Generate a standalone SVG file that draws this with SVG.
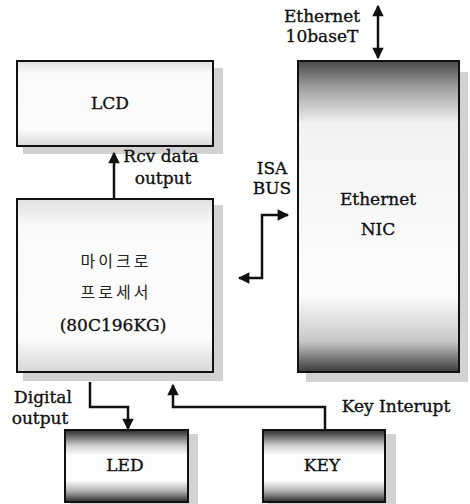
<svg xmlns="http://www.w3.org/2000/svg" width="470" height="504" viewBox="0 0 470 504">
<style>
.t{font-family:"DejaVu Serif","Liberation Serif",serif;font-size:17px;fill:#111;stroke:#111;stroke-width:0.35;text-anchor:middle}
.k{font-family:"Noto Sans CJK KR",sans-serif;font-size:16px;fill:#222;text-anchor:middle;letter-spacing:3px}
.box{stroke:#111;stroke-width:2}
.sh{fill:#d2d2d2}
.c{fill:none;stroke:#111;stroke-width:2.5}
</style>
<defs>
<marker id="ah" viewBox="0 0 10 10" refX="9" refY="5" markerWidth="6" markerHeight="4.6" orient="auto-start-reverse" markerUnits="strokeWidth">
<path d="M0,0 L10,5 L0,10 Z" fill="#111"/>
</marker>
<linearGradient id="gLcd" x1="0" y1="0" x2="0" y2="1">
<stop offset="0" stop-color="#e0e0e0"/><stop offset="0.15" stop-color="#fafafa"/><stop offset="0.8" stop-color="#fcfcfc"/><stop offset="1" stop-color="#d8d8d8"/>
</linearGradient>
<linearGradient id="gNic" x1="0" y1="0" x2="0" y2="1">
<stop offset="0" stop-color="#4a4a4a"/><stop offset="0.08" stop-color="#9a9a9a"/><stop offset="0.2" stop-color="#f2f2f2"/><stop offset="0.75" stop-color="#fdfdfd"/><stop offset="0.9" stop-color="#c8c8c8"/><stop offset="1" stop-color="#3a3a3a"/>
</linearGradient>
<linearGradient id="gBtn" x1="0" y1="0" x2="0" y2="1">
<stop offset="0" stop-color="#2a2a2a"/><stop offset="0.22" stop-color="#d0d0d0"/><stop offset="0.35" stop-color="#fdfdfd"/><stop offset="0.7" stop-color="#fdfdfd"/><stop offset="0.85" stop-color="#b0b0b0"/><stop offset="1" stop-color="#2a2a2a"/>
</linearGradient>
</defs>
<rect width="470" height="504" fill="#fff"/>

<g id="lcd">
<rect class="sh" x="23" y="68" width="200" height="86"/>
<rect class="box" x="17" y="61" width="196" height="85" fill="url(#gLcd)"/>
<text class="t" x="110" y="109">LCD</text>
</g>

<g id="nic">
<rect class="sh" x="306" y="72" width="162" height="310"/>
<rect class="box" x="298" y="61" width="161" height="311" fill="url(#gNic)"/>
<text class="t" x="378" y="205">Ethernet</text>
<text class="t" x="378" y="235">NIC</text>
</g>

<g id="micro">
<rect class="sh" x="23" y="205" width="200" height="176"/>
<rect class="box" x="17" y="199" width="196" height="173" fill="url(#gLcd)"/>
<text class="k" x="116" y="267">마이크로</text>
<text class="k" x="116" y="298">프로세서</text>
<text class="t" x="113" y="331">(80C196KG)</text>
</g>

<g id="led">
<rect class="sh" x="70" y="434" width="128" height="70"/>
<rect class="box" x="65" y="430" width="123" height="72" fill="url(#gBtn)"/>
<text class="t" x="125" y="471">LED</text>
</g>

<g id="key">
<rect class="sh" x="268" y="434" width="128" height="70"/>
<rect class="box" x="263" y="430" width="122" height="72" fill="url(#gBtn)"/>
<text class="t" x="322" y="471">KEY</text>
</g>

<g id="connectors">
<path class="c" d="M378,6 L378,58" marker-start="url(#ah)" marker-end="url(#ah)"/>
<path class="c" d="M114,199 L114,153" marker-end="url(#ah)"/>
<path class="c" d="M239,278 L262,278 L262,215 L288,215" marker-start="url(#ah)" marker-end="url(#ah)"/>
<path class="c" d="M90,382 L90,407 L128,407 L128,429" marker-end="url(#ah)"/>
<path class="c" d="M325,430 L325,407 L173,407 L173,385" marker-end="url(#ah)"/>
</g>

<g id="labels">
<text class="t" x="322" y="22">Ethernet</text>
<text class="t" x="322" y="42">10baseT</text>
<text class="t" x="161" y="162">Rcv data</text>
<text class="t" x="163" y="184">output</text>
<text class="t" x="272" y="174">ISA</text>
<text class="t" x="272" y="194">BUS</text>
<text class="t" x="43" y="403">Digital</text>
<text class="t" x="40" y="424">output</text>
<text class="t" x="396" y="412">Key Interupt</text>
</g>
</svg>
